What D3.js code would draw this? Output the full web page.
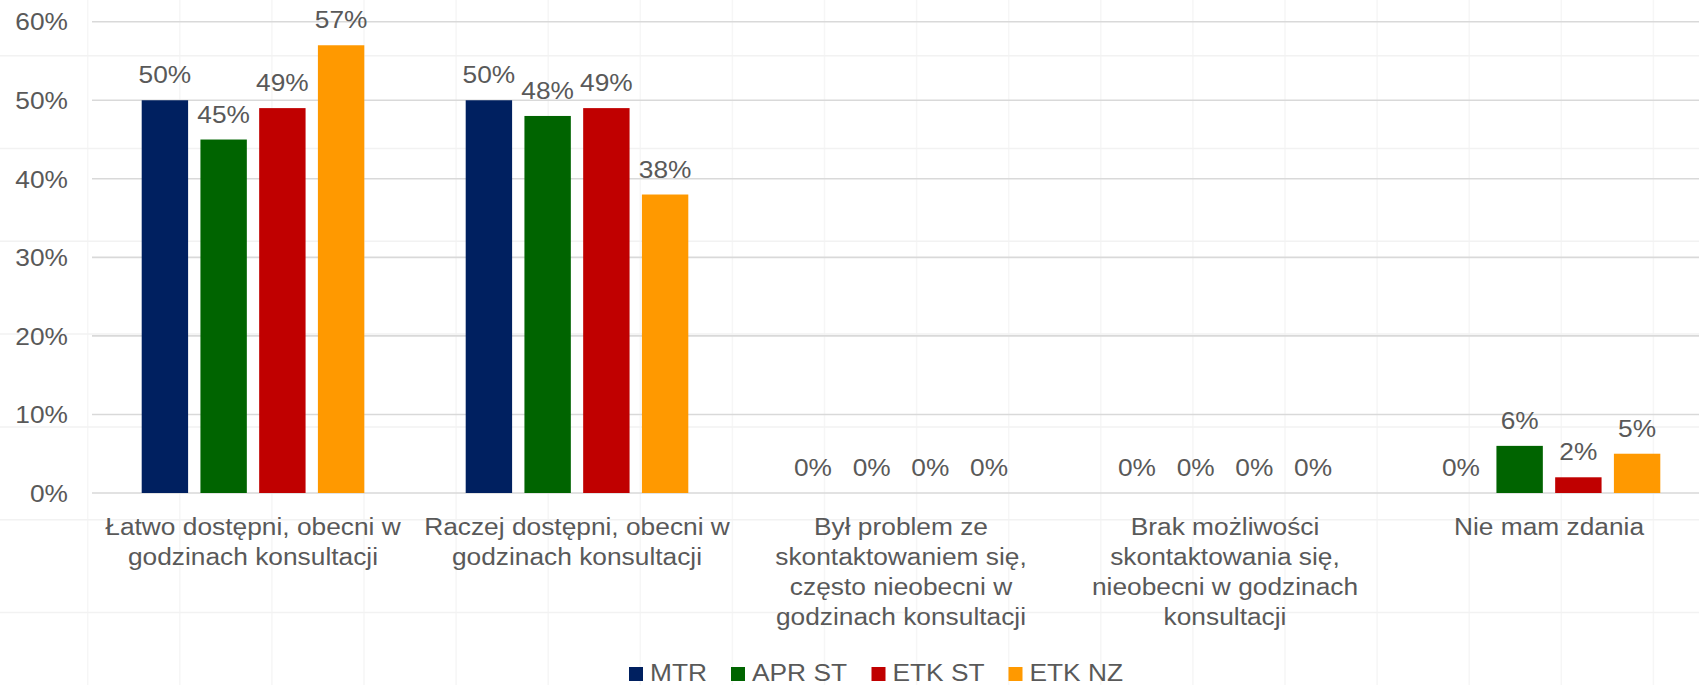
<!DOCTYPE html>
<html>
<head>
<meta charset="utf-8">
<script src="https://cdn.jsdelivr.net/npm/d3@7"></script>
<style>
  html, body { margin: 0; padding: 0; background: #fff; }
  svg { display: block; font-family: "Liberation Sans", Arial, Helvetica, sans-serif; }
</style>
</head>
<body>
<svg id="chart" width="1699" height="685"></svg>
<script>
// Answer categories (x axis), each label split into display lines
const categories = [
  ["Łatwo dostępni, obecni w", "godzinach konsultacji"],
  ["Raczej dostępni, obecni w", "godzinach konsultacji"],
  ["Był problem ze", "skontaktowaniem się,", "często nieobecni w", "godzinach konsultacji"],
  ["Brak możliwości", "skontaktowania się,", "nieobecni w godzinach", "konsultacji"],
  ["Nie mam zdania"]
];

// Series names and values (percent) per category
const seriesNames = ["MTR", "APR ST", "ETK ST", "ETK NZ"];
const mtr   = [50, 50, 0, 0, 0];
const aprSt = [45, 48, 0, 0, 6];
const etkSt = [49, 49, 0, 0, 2];
const etkNz = [57, 38, 0, 0, 5];
const seriesValues = [mtr, aprSt, etkSt, etkNz];
const seriesColors = ["#002060", "#006400", "#C00000", "#FF9900"];

// Y axis ticks (percent)
const yTicks = [0, 10, 20, 30, 40, 50, 60];

const svg = d3.select("#chart");
const W = 1699, H = 685;
const textColor = "#595959";
const fontSize = "23.5px";
const sx = 1.12; // horizontal stretch of the text glyphs

// Faint background paper grid
const bg = svg.append("g");
bg.selectAll("line.v")
  .data(d3.range(87.7, W, 92.1))
  .join("line").attr("class", "v")
  .attr("x1", d => d).attr("x2", d => d).attr("y1", 0).attr("y2", H)
  .attr("stroke", "#f6f6f6").attr("stroke-width", 1.5);
bg.selectAll("line.h")
  .data(d3.range(55.7, H, 92.8))
  .join("line").attr("class", "h")
  .attr("x1", 0).attr("x2", W).attr("y1", d => d).attr("y2", d => d)
  .attr("stroke", "#f2f2f2").attr("stroke-width", 1.5);

const x0 = d3.scaleBand()
  .domain(d3.range(categories.length))
  .range([91, 1711])
  .paddingInner(0).paddingOuter(0);

const x1 = d3.scaleBand()
  .domain(d3.range(seriesNames.length))
  .range([50.7, x0.bandwidth() - 50.7])
  .paddingInner(0.21).paddingOuter(0);

const y = d3.scaleLinear().domain([0, 60]).range([493, 21.7]);

// Horizontal gridlines
svg.append("g")
  .selectAll("line")
  .data(yTicks)
  .join("line")
  .attr("x1", 92).attr("x2", W)
  .attr("y1", d => y(d)).attr("y2", d => y(d))
  .attr("stroke", "#d9d9d9")
  .attr("stroke-width", 1.6);

// Y axis tick labels
const yAxis = d3.axisLeft(y).tickValues(yTicks).tickFormat(d => d + "%").tickSize(0).tickPadding(0);
const gy = svg.append("g").attr("transform", "translate(68,0)").call(yAxis);
gy.select(".domain").remove();
gy.selectAll("text")
  .attr("fill", textColor)
  .attr("x", 0)
  .attr("transform", `scale(${sx},1)`)
  .style("font-size", fontSize)
  .style("font-family", "'Liberation Sans', Arial, sans-serif")
  .attr("dy", "0.35em");

// Bars and value labels
const groups = svg.append("g")
  .selectAll("g")
  .data(categories.map((c, i) => i))
  .join("g")
  .attr("transform", i => `translate(${x0(i)},0)`);

groups.selectAll("rect")
  .data(i => seriesValues.map((vals, s) => ({ s, v: vals[i] })))
  .join("rect")
  .attr("x", d => x1(d.s))
  .attr("width", x1.bandwidth())
  .attr("y", d => y(d.v))
  .attr("height", d => y(0) - y(d.v))
  .attr("fill", d => seriesColors[d.s]);

groups.selectAll("text")
  .data(i => seriesValues.map((vals, s) => ({ s, v: vals[i] })))
  .join("text")
  .attr("transform", d => `translate(${x1(d.s) + x1.bandwidth() / 2},${y(d.v) - 17}) scale(${sx},1)`)
  .attr("text-anchor", "middle")
  .attr("fill", textColor)
  .style("font-size", fontSize)
  .text(d => d.v + "%");

// Category labels
const catText = svg.append("g")
  .selectAll("text")
  .data(categories)
  .join("text")
  .attr("transform", (d, i) => `translate(${x0(i) + x0.bandwidth() / 2},0) scale(${sx},1)`)
  .attr("text-anchor", "middle")
  .attr("fill", textColor)
  .style("font-size", fontSize);

catText.selectAll("tspan")
  .data(lines => lines)
  .join("tspan")
  .attr("x", 0)
  .attr("y", (d, k) => 535 + k * 30)
  .text(d => d);

// Legend
const legendX = [629, 731, 871.5, 1008.5];
const legend = svg.append("g")
  .selectAll("g")
  .data(seriesNames)
  .join("g")
  .attr("transform", (d, i) => `translate(${legendX[i]},0)`);

legend.append("rect")
  .attr("x", 0).attr("y", 667)
  .attr("width", 14).attr("height", 14)
  .attr("fill", (d, i) => seriesColors[i]);

legend.append("text")
  .attr("transform", `translate(21,681) scale(${sx},1)`)
  .attr("fill", textColor)
  .style("font-size", fontSize)
  .text(d => d);
</script>
</body>
</html>
